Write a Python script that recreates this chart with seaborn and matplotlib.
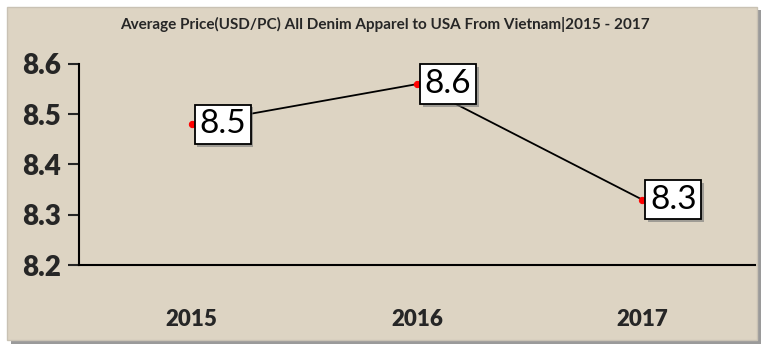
import matplotlib
matplotlib.use('Agg')
import matplotlib.pyplot as plt
import matplotlib.patheffects as pe
import seaborn as sns
from matplotlib.patches import Rectangle

# data
years = ['2015', '2016', '2017']
avg_price = [8.48, 8.56, 8.33]
y_ticks = [8.2, 8.3, 8.4, 8.5, 8.6]
title = 'Average Price(USD/PC) All Denim Apparel to USA From Vietnam|2015 - 2017'

sns.set_style('white')
plt.rcParams['font.family'] = ['Lato', 'DejaVu Sans']

fig = plt.figure(figsize=(7.68, 3.53), dpi=100, facecolor='white')

# beige panel with a grey shadow, like the framed picture
fig.patches.append(Rectangle((11 / 768, 9 / 353), 750 / 768, 334 / 353, transform=fig.transFigure,
                             facecolor='#9a9a9a', edgecolor='none', zorder=-2))
fig.patches.append(Rectangle((7 / 768, 13 / 353), 750 / 768, 333 / 353, transform=fig.transFigure,
                             facecolor='#ddd4c3', edgecolor='#c9c2b4', linewidth=1, zorder=-1))

ax = fig.add_axes([79 / 768, 88 / 353, 676 / 768, 201 / 353])
ax.set_facecolor('none')
ax.set_zorder(2)

sns.lineplot(x=years, y=avg_price, ax=ax, color='black', linewidth=1.3, marker='o',
             markersize=4.5, markerfacecolor='red', markeredgecolor='red', sort=False, zorder=1)

for i, v in enumerate(avg_price):
    ann = ax.annotate(f'{v:.1f}', (i, v), xytext=(5.5, 0), textcoords='offset points',
                      ha='left', va='center', fontsize=24, color='black', zorder=3,
                      bbox=dict(boxstyle='square,pad=0.14', facecolor='white', edgecolor='black', linewidth=1.3))
    ann.get_bbox_patch().set_path_effects([pe.SimplePatchShadow(offset=(2, -2), shadow_rgbFace='#777777', alpha=0.6),
                                           pe.Normal()])

ax.set_xlim(-0.5, 2.5)
ax.set_ylim(8.2, 8.6)
ax.set_yticks(y_ticks)
ax.set_yticklabels([f'{t:.1f}' for t in y_ticks], fontsize=20, fontweight='heavy')
ax.set_xticks(range(len(years)))
ax.set_xticklabels(years, fontsize=16, fontweight='heavy')
ax.tick_params(axis='y', length=8, width=1.5, direction='out', pad=5, left=True)
ax.tick_params(axis='x', length=0, pad=32)
for side in ['top', 'right']:
    ax.spines[side].set_visible(False)
for side in ['left', 'bottom']:
    ax.spines[side].set_color('black')
    ax.spines[side].set_linewidth(1.5)
ax.set_xlabel('')
ax.set_ylabel('')

fig.text(385 / 768, 1 - 24 / 353, title, ha='center', va='center', fontsize=11,
         fontweight='bold', zorder=3)

fig.savefig('out.png', dpi=100, facecolor='white')
